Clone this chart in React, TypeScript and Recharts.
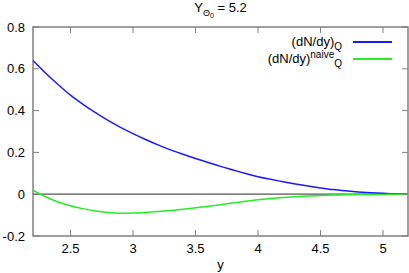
import React from "react";
import {
  LineChart,
  Line,
  XAxis,
  YAxis,
  ReferenceLine,
  ReferenceArea,
  Label,
} from "recharts";

const yValues = [
  2.2, 2.3, 2.4, 2.5, 2.6, 2.7, 2.8, 2.9, 3.0, 3.1, 3.2, 3.3, 3.4, 3.5, 3.6,
  3.7, 3.8, 3.9, 4.0, 4.1, 4.2, 4.3, 4.4, 4.5, 4.6, 4.7, 4.8, 4.9, 5.0, 5.1,
  5.2,
];
const dndyQ = [
  0.64, 0.58, 0.525, 0.474, 0.43, 0.39, 0.353, 0.32, 0.29, 0.262, 0.236,
  0.212, 0.191, 0.171, 0.152, 0.133, 0.116, 0.099, 0.083, 0.071, 0.06, 0.049,
  0.039, 0.03, 0.022, 0.016, 0.011, 0.007, 0.004, 0.002, 0.0,
];
const dndyNaive = [
  0.02, -0.012, -0.037, -0.055, -0.069, -0.08, -0.087, -0.091, -0.09, -0.087,
  -0.083, -0.078, -0.072, -0.065, -0.058, -0.05, -0.042, -0.034, -0.027,
  -0.021, -0.016, -0.012, -0.009, -0.006, -0.004, -0.003, -0.002, -0.001,
  -0.001, 0.0, 0.0,
];
const xTicks = [2.5, 3, 3.5, 4, 4.5, 5];
const yTicks = [-0.2, 0, 0.2, 0.4, 0.6, 0.8];

const data = yValues.map((y, i) => ({ y, q: dndyQ[i], naive: dndyNaive[i] }));

const W = 409;
const H = 273;
const PT = 27;
const PB = 236;
const PL = 33;
const PR = 408;
const frame = "#808080";
const blue = "#1a1aff";
const green = "#22ee22";
const font = "'Liberation Sans', Arial, sans-serif";

const XTick = (props: any) => {
  const { x, y, payload } = props;
  return (
    <g>
      <line x1={x} x2={x} y1={PB} y2={PB - 6} stroke={frame} />
      <line x1={x} x2={x} y1={PT} y2={PT + 6} stroke={frame} />
      <text x={x} y={y} dy="0.71em" textAnchor="middle" fontSize={13} fill="#000">
        {payload.value}
      </text>
    </g>
  );
};

const YTick = (props: any) => {
  const { x, y, payload } = props;
  return (
    <g>
      <line x1={PL} x2={PL + 6} y1={y} y2={y} stroke={frame} />
      <line x1={PR} x2={PR - 6} y1={y} y2={y} stroke={frame} />
      <text x={x} y={y} dy="0.35em" textAnchor="end" fontSize={13} fill="#000">
        {payload.value}
      </text>
    </g>
  );
};

const small = { fontSize: 10, lineHeight: 0, position: "relative" as const };

const legendRows = [
  { key: "q", color: blue, sup: "", center: 41.5 },
  { key: "naive", color: green, sup: "naive", center: 58.5 },
];

export default function App() {
  return (
    <div style={{ position: "absolute", left: 0, top: 0, width: W, height: H, fontFamily: font, background: "#fff" }}>
      <LineChart width={W} height={H} data={data} margin={{ top: PT, right: W - PR, left: 0, bottom: 0 }}>
        <ReferenceArea x1={2.2} x2={5.2} y1={-0.2} y2={0.8} fill="none" stroke={frame} strokeWidth={1.5} ifOverflow="visible" />
        <XAxis
          dataKey="y"
          type="number"
          domain={[2.2, 5.2]}
          ticks={xTicks}
          height={H - PB}
          tickSize={0}
          tickMargin={8}
          tickLine={false}
          axisLine={false}
          tick={<XTick />}
          allowDataOverflow
        >
          <Label value="y" position="insideBottom" offset={4} fontSize={13} fill="#000" />
        </XAxis>
        <YAxis
          type="number"
          domain={[-0.2, 0.8]}
          ticks={yTicks}
          width={PL}
          tickSize={0}
          tickMargin={8}
          tickLine={false}
          axisLine={false}
          tick={<YTick />}
          allowDataOverflow
        />
        <ReferenceLine y={0} stroke="#555" strokeWidth={1.2} />
        <Line type="monotone" dataKey="q" stroke={blue} strokeWidth={1.5} dot={false} isAnimationActive={false} />
        <Line type="monotone" dataKey="naive" stroke={green} strokeWidth={1.5} dot={false} isAnimationActive={false} />
      </LineChart>
      <div
        style={{
          position: "absolute",
          left: PL,
          width: PR - PL,
          top: 0,
          textAlign: "center",
          fontSize: 13,
          lineHeight: "16px",
        }}
      >
        Y
        <span style={{ ...small, fontSize: 9, top: 4 }}>Θ</span>
        <span style={{ ...small, fontSize: 7, top: 6 }}>0</span> = 5.2
      </div>
      {legendRows.map((r) => (
        <div
          key={r.key}
          style={{
            position: "absolute",
            right: 17,
            top: r.center - 8,
            height: 16,
            display: "flex",
            alignItems: "center",
            fontSize: 13,
            lineHeight: "16px",
            whiteSpace: "nowrap",
          }}
        >
          <span>
            (dN/dy)
            {r.sup ? <span style={{ ...small, top: -5 }}>{r.sup}</span> : null}
            <span style={{ ...small, top: 4 }}>Q</span>
          </span>
          <span style={{ display: "inline-block", width: 39, height: 2, background: r.color, marginLeft: 11 }} />
        </div>
      ))}
    </div>
  );
}
